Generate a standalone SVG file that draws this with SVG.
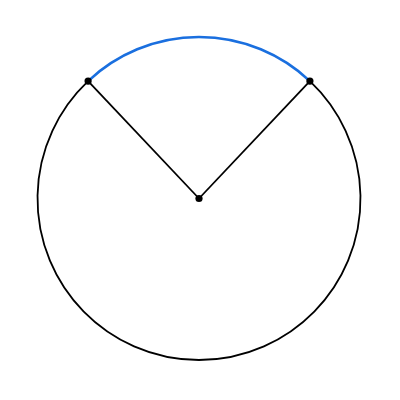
<svg xmlns="http://www.w3.org/2000/svg" width="400" height="400" viewBox="0 0 400 400">
<style>
.ln{fill:none;stroke:#000;stroke-width:1.8}
.arc{fill:none;stroke:#1a6fdf;stroke-width:2.6}
.pt{fill:#000}
</style>
<rect width="400" height="400" fill="#fff"/>
<g id="circle">
<path class="ln" d="M 88.1 81.1 A 161.5 161.5 0 1 0 309.9 81.1"/>
</g>
<g id="arc">
<path class="arc" d="M 88.1 81.1 A 161.5 161.5 0 0 1 309.9 81.1"/>
</g>
<g id="connectors">
<line class="ln" x1="199" y1="198.5" x2="88.1" y2="81.1"/>
<line class="ln" x1="199" y1="198.5" x2="309.9" y2="81.1"/>
</g>
<g id="pointA"><circle class="pt" cx="88.1" cy="81.1" r="3.6"/></g>
<g id="pointB"><circle class="pt" cx="309.9" cy="81.1" r="3.6"/></g>
<g id="center"><circle class="pt" cx="199" cy="198.5" r="3.6"/></g>
</svg>
